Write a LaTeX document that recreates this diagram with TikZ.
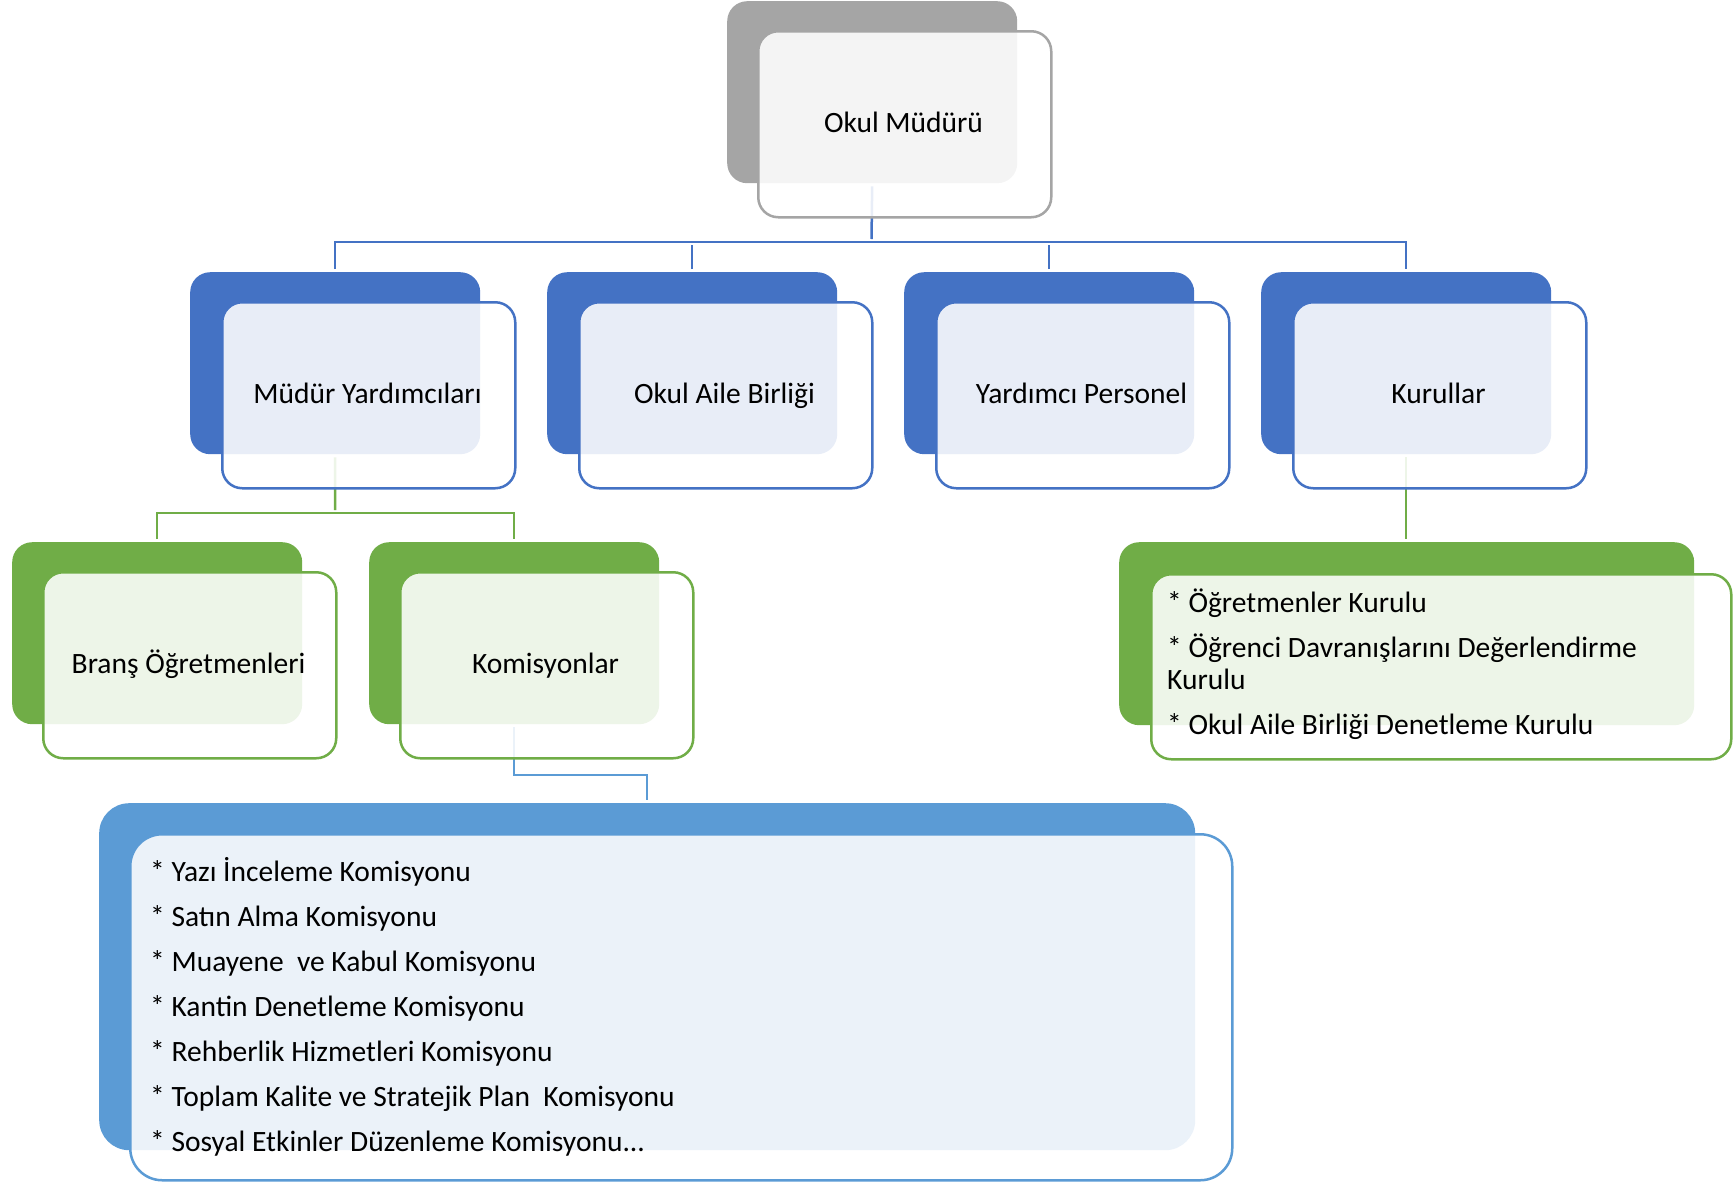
\documentclass[tikz,border=0pt]{standalone}
\usepackage{fontspec}
\setmainfont{Carlito}
\definecolor{grayC}{HTML}{A5A5A5}
\definecolor{blueC}{HTML}{4472C4}
\definecolor{greenC}{HTML}{70AD47}
\definecolor{lblueC}{HTML}{5B9BD5}
\tikzset{
  backbox/.style={rectangle, rounded corners=20pt, minimum width=290pt, minimum height=182pt, inner sep=0pt, anchor=north west},
  frontbox/.style={rectangle, rounded corners=20pt, minimum width=293pt, minimum height=186pt, inner sep=0pt, anchor=north west, fill=white, fill opacity=0.88, line width=2.5pt},
  conn/.style={line width=2.5pt, shorten <=3pt, shorten >=3pt},
  lbl/.style={font=\fontsize{29.5}{35}\selectfont, anchor=base, inner sep=0pt, text=black},
  itemtxt/.style={font=\fontsize{29.5}{35}\selectfont, anchor=base west, inner sep=0pt, text=black}
}
\begin{document}
\begin{tikzpicture}[x=1pt,y=-1pt]
\useasboundingbox (0,0) rectangle (1735,1181);
% back boxes
\node[backbox, fill=grayC] (b0) at (727,1) {};
\node[backbox, fill=blueC] (b1) at (190,272) {};
\node[backbox, fill=blueC] (b2) at (547,272) {};
\node[backbox, fill=blueC] (b3) at (904,272) {};
\node[backbox, fill=blueC] (b4) at (1261,272) {};
\node[backbox, fill=greenC] (c1) at (12,542) {};
\node[backbox, fill=greenC] (c2) at (369,542) {};
\node[backbox, fill=greenC, minimum width=575pt, minimum height=183pt] (k0) at (1119,542) {};
\node[backbox, fill=lblueC, rounded corners=30pt, minimum width=1096pt, minimum height=347pt] (m0) at (99,803) {};
% connectors
\coordinate (j0) at (871.5,242);
\coordinate (j1) at (335,513);
\coordinate (j2) at (580,775);
\draw[conn, blueC] (b0.south) -- (j0);
\draw[conn, blueC] (b1.north) |- (j0) -| (b4.north);
\draw[conn, blueC] (b2.north) -- (b2.north |- j0);
\draw[conn, blueC] (b3.north) -- (b3.north |- j0);
\draw[conn, greenC] (b1.south) -- (j1);
\draw[conn, greenC] (c1.north) |- (j1) -| (c2.north);
\draw[conn, greenC] (b4.south) -- (b4.south |- k0.north);
\draw[conn, lblueC] (c2.south) |- (j2) -| (m0.north);
% front boxes
\node[frontbox, draw=grayC] (f0) at (757,30) {};
\node[frontbox, draw=blueC] (f1) at (221,301) {};
\node[frontbox, draw=blueC] (f2) at (578,301) {};
\node[frontbox, draw=blueC] (f3) at (935,301) {};
\node[frontbox, draw=blueC] (f4) at (1292,301) {};
\node[frontbox, draw=greenC] (g1) at (42,571) {};
\node[frontbox, draw=greenC] (g2) at (399,571) {};
\node[frontbox, draw=greenC, minimum width=580pt, minimum height=185pt] (k1) at (1150,573) {};
\node[frontbox, draw=lblueC, rounded corners=32pt, minimum width=1102pt, minimum height=346pt] (m1) at (129,833) {};
% labels
\node[lbl] (t0) at (903.5,132.5) {Okul Müdürü};
\node[lbl] (t1) at (367.5,403.5) {Müdür Yardımcıları};
\node[lbl] (t2) at (724.5,403.5) {Okul Aile Birliği};
\node[lbl] (t3) at (1081.5,403.5) {Yardımcı Personel};
\node[lbl] (t4) at (1438.5,403.5) {Kurullar};
\node[lbl] (t5) at (188.5,673.5) {Branş Öğretmenleri};
\node[lbl] (t6) at (545.5,673.5) {Komisyonlar};
% Kurullar list
\node[itemtxt] (ka) at (1167,612.5) {* Öğretmenler Kurulu};
\node[itemtxt] (kb) at (1167,657.5) {* Öğrenci Davranışlarını Değerlendirme};
\node[itemtxt] (kc) at (1167,689.5) {Kurulu};
\node[itemtxt] (kd) at (1167,734.5) {* Okul Aile Birliği Denetleme Kurulu};
% Komisyon list
\node[itemtxt] (ma) at (150,881.5) {* Yazı İnceleme Komisyonu};
\node[itemtxt] (mb) at (150,926.5) {* Satın Alma Komisyonu};
\node[itemtxt] (mc) at (150,971.5) {* Muayene\ \ ve Kabul Komisyonu};
\node[itemtxt] (md) at (150,1016.5) {* Kantin Denetleme Komisyonu};
\node[itemtxt] (me) at (150,1061.5) {* Rehberlik Hizmetleri Komisyonu};
\node[itemtxt] (mf) at (150,1106.5) {* Toplam Kalite ve Stratejik Plan\ \ Komisyonu};
\node[itemtxt] (mg) at (150,1151.5) {* Sosyal Etkinler Düzenleme Komisyonu...};
\end{tikzpicture}
\end{document}
